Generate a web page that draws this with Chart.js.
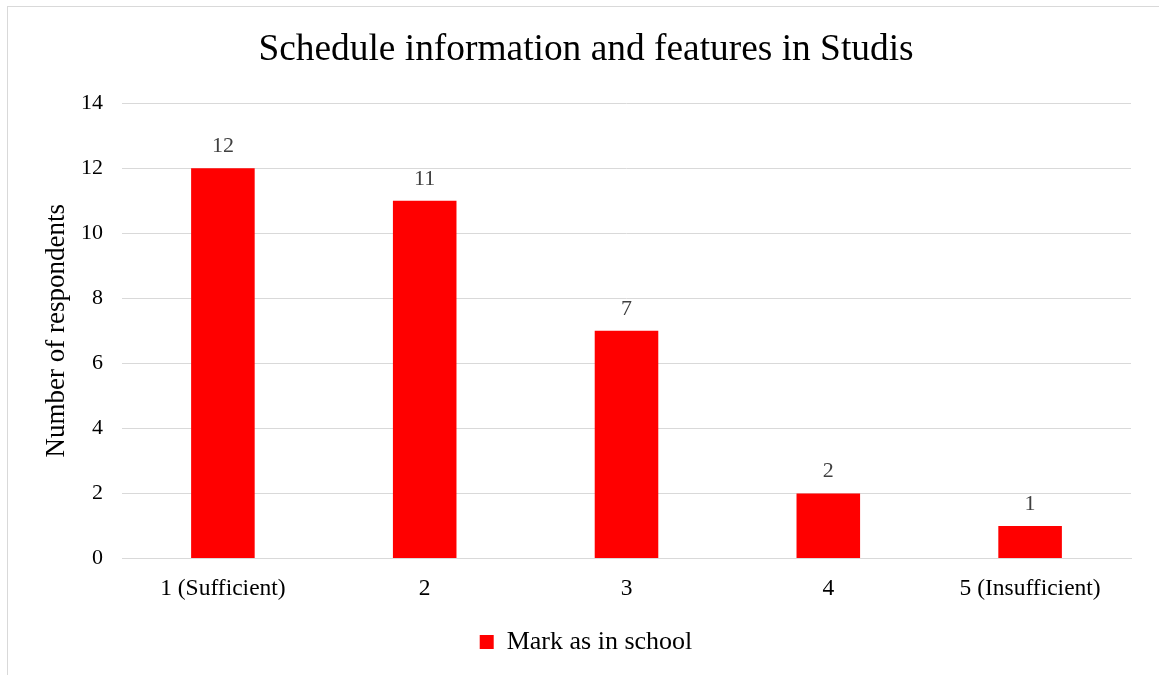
<!DOCTYPE html>
<html>
<head>
<meta charset="utf-8">
<script src="https://cdn.jsdelivr.net/npm/chart.js@4/dist/chart.umd.min.js"></script>
<style>
  html, body { margin: 0; padding: 0; background: #fff; }
  #wrap { position: absolute; left: 0; top: 0; width: 1159px; height: 675px; }
  #frame { position: absolute; left: 7px; top: 6px; width: 1200px; height: 700px;
           border-left: 1px solid #d9d9d9; border-top: 1px solid #d9d9d9; }
  canvas { position: absolute; left: 0; top: 0; }
</style>
</head>
<body>
<div id="wrap">
  <div id="frame"></div>
  <canvas id="chart" width="1159" height="675"></canvas>
</div>
<script>
const categories = ['1 (Sufficient)', '2', '3', '4', '5 (Insufficient)'];
const respondents = [12, 11, 7, 2, 1];
const yTicks = [0, 2, 4, 6, 8, 10, 12, 14];

const serif = "'Liberation Serif', 'Times New Roman', serif";

// draws the value above each bar
const valueLabels = {
  id: 'valueLabels',
  afterDatasetsDraw(chart) {
    const ctx = chart.ctx;
    ctx.save();
    ctx.font = '22px ' + serif;
    ctx.fillStyle = '#404040';
    ctx.textAlign = 'center';
    ctx.textBaseline = 'alphabetic';
    chart.getDatasetMeta(0).data.forEach((bar, i) => {
      ctx.fillText(respondents[i], bar.x, bar.y - 16);
    });
    ctx.restore();
  }
};

new Chart(document.getElementById('chart').getContext('2d'), {
  type: 'bar',
  data: {
    labels: categories,
    datasets: [{
      label: 'Mark as in school',
      data: respondents,
      backgroundColor: '#ff0000',
      borderWidth: 0,
      categoryPercentage: 1,
      barPercentage: 0.315
    }]
  },
  options: {
    responsive: false,
    animation: false,
    layout: { padding: { left: 41, right: 28, top: 6, bottom: 10 } },
    plugins: {
      title: {
        display: true,
        text: 'Schedule information and features in Studis',
        color: '#000',
        font: { family: serif, size: 37.4, weight: 'normal' },
        padding: { top: 22, bottom: 30.2 }
      },
      legend: {
        position: 'bottom',
        labels: {
          color: '#000',
          font: { family: serif, size: 26 },
          boxWidth: 14,
          boxHeight: 14,
          padding: 9
        }
      },
      tooltip: { enabled: false }
    },
    scales: {
      x: {
        grid: { display: false, drawTicks: false },
        border: { display: true, color: '#d9d9d9', width: 1 },
        ticks: { color: '#000', font: { family: serif, size: 23.5, lineHeight: 1 }, padding: 19 }
      },
      y: {
        min: 0,
        max: 14,
        afterBuildTicks: axis => { axis.ticks = yTicks.map(v => ({ value: v })); },
        grid: { color: '#d9d9d9', drawTicks: false },
        border: { display: false },
        ticks: { color: '#000', font: { family: serif, size: 22 }, padding: 19 },
        title: {
          display: true,
          text: 'Number of respondents',
          color: '#000',
          font: { family: serif, size: 27 },
          padding: { top: 0, bottom: -11.4 }
        }
      }
    }
  },
  plugins: [valueLabels]
});
</script>
</body>
</html>
